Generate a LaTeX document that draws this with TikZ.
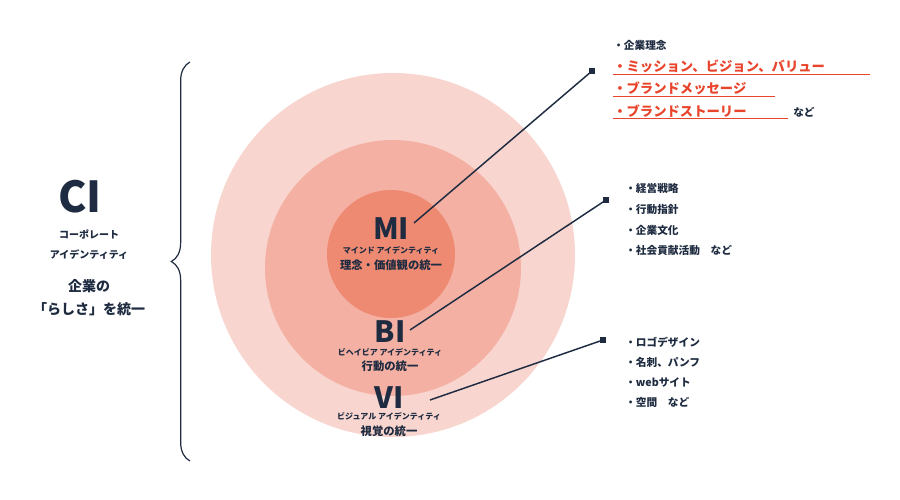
\documentclass[tikz,border=0pt]{standalone}
\usepackage{fontspec}
\setmainfont{Noto Sans CJK JP}
\usetikzlibrary{decorations.pathreplacing}
\definecolor{navy}{HTML}{1E2B40}
\definecolor{accent}{HTML}{E8452C}
\definecolor{ringA}{HTML}{F8D6CF}
\definecolor{ringB}{HTML}{F4B0A3}
\definecolor{ringC}{HTML}{EF8A72}
\tikzset{>=stealth}
\tikzset{
  big/.style={font=\fontsize{22}{24}\selectfont\bfseries,text=navy,inner sep=0},
  kana/.style={font=\fontsize{6}{7}\selectfont\bfseries,text=navy,inner sep=0},
  sub/.style={font=\fontsize{8.5}{9}\selectfont\bfseries,text=navy,inner sep=0},
  item/.style={font=\fontsize{8}{9}\selectfont\bfseries,text=navy,anchor=west,inner sep=0},
  hot/.style={font=\fontsize{10}{12}\selectfont\bfseries,text=accent,anchor=west,inner sep=0},
  leader/.style={navy,line width=1.1pt},
  tip/.style={fill=navy,minimum size=4pt,inner sep=0}
}
\begin{document}
\begin{tikzpicture}[x=0.75pt,y=-0.75pt]
    \useasboundingbox (0,0) rectangle (900,500);
    % rings
    \fill[ringA] (393,255) circle (182);
    \fill[ringB] (393,268) circle (128);
    \fill[ringC] (391,254) circle (64);
    % labels in the rings
    \node[big] (mi) at (391,229) {MI};
    \node[kana] at (391,250) {マインド アイデンティティ};
    \node[sub] at (391,265) {理念・価値観の統一};
    \node[big] (bi) at (390,332) {BI};
    \node[kana] at (390,352) {ビヘイビア アイデンティティ};
    \node[sub] at (390,366) {行動の統一};
    \node[big] (vi) at (389,398) {VI};
    \node[kana] at (389,416) {ビジュアル アイデンティティ};
    \node[sub] at (389,431) {視覚の統一};
    % left side
    \node[font=\fontsize{32}{34}\selectfont\bfseries,text=navy] (ci) at (80,197) {CI};
    \node[sub,font=\fontsize{7.5}{8}\selectfont\bfseries] at (89,234) {コーポレート};
    \node[sub,font=\fontsize{7.5}{8}\selectfont\bfseries] at (89,255) {アイデンティティ};
    \node[sub,font=\fontsize{10.5}{12}\selectfont\bfseries] at (89,286) {企業の};
    \node[sub,font=\fontsize{10.5}{12}\selectfont\bfseries] at (89,309) {「らしさ」を統一};
    \draw[navy,line width=0.9pt,decorate,decoration={brace,amplitude=14pt}]
        (190,461) -- (190,62);
    % lists
    \node[item] (l1) at (613,45) {・企業理念};
    \node[hot] (l2) at (613,66) {・ミッション、ビジョン、バリュー};
    \node[hot] (l3) at (613,88) {・ブランドメッセージ};
    \node[hot] (l4) at (613,111) {・ブランドストーリー};
    \node[item] at (793,112) {など};
    \foreach \n/\e in {l2/870,l3/775,l4/788}
      \draw[accent,line width=0.8pt] ([yshift=-1pt]\n.south west) -- ([yshift=-1pt]\n.south west -| \e,0);
    \node[item] (b1) at (625,188) {・経営戦略};
    \node[item] at (625,209) {・行動指針};
    \node[item] at (625,230) {・企業文化};
    \node[item] at (625,250) {・社会貢献活動　など};
    \node[item] (v1) at (625,342) {・ロゴデザイン};
    \node[item] at (625,362) {・名刺、パンフ};
    \node[item] at (625,382) {・webサイト};
    \node[item] at (625,402) {・空間　など};
    % leaders
    \node[tip] (t1) at (592,71) {};
    \node[tip] (t2) at (606,200) {};
    \node[tip] (t3) at (603,340) {};
    \coordinate (s1) at (414,223);
    \coordinate (s2) at (410,330);
    \coordinate (s3) at (430,400);
    \draw[leader] (s1) -- (t1.center);
    \draw[leader] (s2) -- (t2.center);
    \draw[leader] (s3) -- (t3.center);
\end{tikzpicture}
\end{document}
